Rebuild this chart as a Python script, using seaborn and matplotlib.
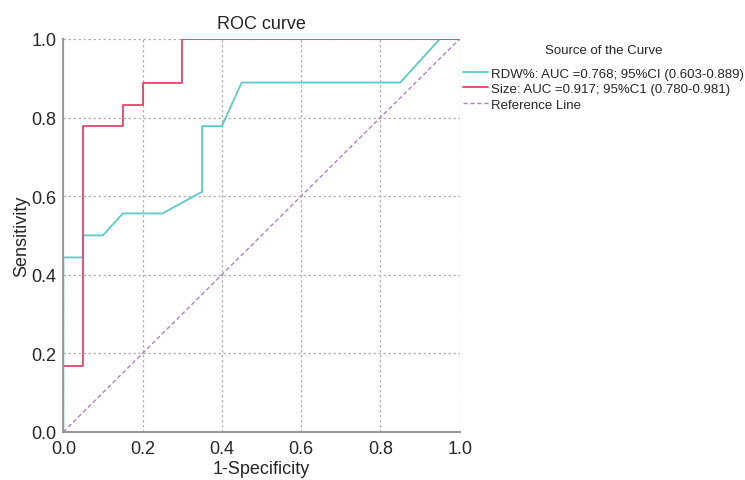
import pandas as pd
import matplotlib
matplotlib.use("Agg")
import matplotlib.pyplot as plt
import seaborn as sns

# ROC curve points
rdw_fpr = [0.0, 0.0, 0.05, 0.05, 0.10, 0.15, 0.25, 0.35, 0.35, 0.40, 0.45, 0.85, 0.95, 1.0]
rdw_tpr = [0.0, 0.444, 0.444, 0.5, 0.5, 0.556, 0.556, 0.611, 0.778, 0.778, 0.889, 0.889, 1.0, 1.0]

size_fpr = [0.0, 0.0, 0.05, 0.05, 0.15, 0.15, 0.20, 0.20, 0.30, 0.30, 1.0]
size_tpr = [0.0, 0.167, 0.167, 0.778, 0.778, 0.833, 0.833, 0.889, 0.889, 1.0, 1.0]

ref_x = [0.0, 1.0]
ref_y = [0.0, 1.0]

labels = ["RDW%: AUC =0.768; 95%CI (0.603-0.889)",
          "Size: AUC =0.917; 95%C1 (0.780-0.981)",
          "Reference Line"]
colors = ["#5ec9c9", "#e2456a", "#b57ccc"]

sns.set_style("white")
plt.rcParams['font.family'] = ['Liberation Sans', 'DejaVu Sans']

fig = plt.figure(figsize=(7.45, 4.81), dpi=100)
ax = fig.add_axes([0.085, 0.1, 0.532, 0.817])

sns.lineplot(x=rdw_fpr, y=rdw_tpr, sort=False, estimator=None, color=colors[0],
             linewidth=1.3, label=labels[0], ax=ax)
sns.lineplot(x=size_fpr, y=size_tpr, sort=False, estimator=None, color=colors[1],
             linewidth=1.3, label=labels[1], ax=ax)
sns.lineplot(x=ref_x, y=ref_y, sort=False, estimator=None, color=colors[2],
             linewidth=1.0, linestyle=(0, (3, 2)), label=labels[2], ax=ax)

ax.set_xlim(0, 1)
ax.set_ylim(0, 1)
ax.set_xticks([0, 0.2, 0.4, 0.6, 0.8, 1.0])
ax.set_yticks([0, 0.2, 0.4, 0.6, 0.8, 1.0])
ax.set_xticklabels(["0.0", "0.2", "0.4", "0.6", "0.8", "1.0"])
ax.set_yticklabels(["0.0", "0.2", "0.4", "0.6", "0.8", "1.0"])
ax.tick_params(axis="x", labelsize=13, length=0, pad=6)
ax.tick_params(axis="y", labelsize=13, length=0, pad=5)
ax.grid(True, linestyle=(0, (2, 2)), color="#b0b0b0", linewidth=0.9)
for s in ["top", "right"]:
    ax.spines[s].set_visible(False)
for s in ["left", "bottom"]:
    ax.spines[s].set_color("#999999")
    ax.spines[s].set_linewidth(1.5)

ax.set_title("ROC curve", fontsize=13, pad=8)
ax.set_xlabel("1-Specificity", fontsize=13, labelpad=2)
ax.set_ylabel("Sensitivity", fontsize=13, labelpad=1)

leg = ax.legend(title="Source of the Curve", loc="upper left", bbox_to_anchor=(0.995, 1.0),
                frameon=False, fontsize=9.5, title_fontsize=9.5, handlelength=1.9,
                handletextpad=0.2, labelspacing=0.25, borderaxespad=0)
leg._legend_box.align = "center"
leg._legend_box.sep = 8

fig.savefig("out.png", dpi=100)
